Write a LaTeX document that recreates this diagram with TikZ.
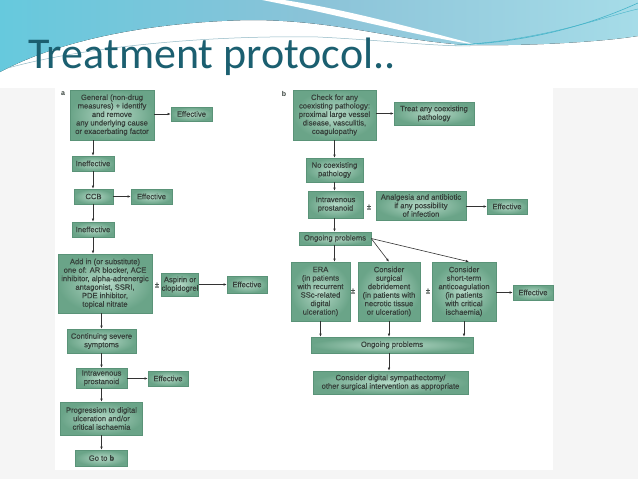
\documentclass[tikz,border=0pt]{standalone}
\usepackage{fontspec}
\setmainfont{Liberation Sans}
\newfontfamily\titlefont{Carlito}
\newfontfamily\bxfam{Liberation Sans}[FakeBold=0.5]
\usetikzlibrary{arrows.meta,calc}
\definecolor{bgc}{HTML}{F5F5F5}
\definecolor{hdA}{HTML}{66C9DD}
\definecolor{hdB}{HTML}{8BC3D8}
\definecolor{hdC}{HTML}{A6DCE8}
\definecolor{tealline}{HTML}{45B4C9}
\definecolor{swline}{HTML}{8FB8C4}
\definecolor{titlec}{HTML}{1B5F70}
\definecolor{boxin}{HTML}{B4D8C6}
\definecolor{boxout}{HTML}{6AA488}
\definecolor{boxd}{HTML}{5A9378}
\definecolor{txt}{HTML}{37423C}
\definecolor{arrc}{HTML}{333333}
\newcommand\bxfont{\bxfam\fontsize{7.6}{8.5}\selectfont}
\begin{document}
\begin{tikzpicture}[x=1pt,y=-1pt,
  box/.style={draw=boxd, line width=0.5pt, inner color=boxin, outer color=boxout,
    text=txt, font=\bxfont, align=center, inner sep=0pt, anchor=center},
  arr/.style={draw=arrc, line width=0.6pt, -{Latex[length=3.2pt,width=2.6pt]}},
  pm/.style={text=txt, font=\bxfont, inner sep=0pt},
  lbl/.style={text=txt, font=\fontsize{7}{8}\selectfont\bfseries, inner sep=0pt}]
\useasboundingbox (0,0) rectangle (638,479);
% background
\fill[bgc] (0,0) rectangle (638,479);
\fill[white] (0,0) rectangle (638,88);
% header swoosh
\fill[left color=hdA, right color=hdC, middle color=hdB]
  (0,0) -- (638,0) -- (638,36) .. controls (600,42) and (530,46) .. (470,45)
  .. controls (400,42) and (340,20) .. (250,20)
  .. controls (150,22) and (60,40) .. (0,72) -- cycle;
\fill[white] (284,0) .. controls (350,10) and (420,30) .. (478,45)
  .. controls (420,37) and (340,15) .. (262,0) -- cycle;
\draw[tealline, line width=0.6pt] (455,45) .. controls (540,42) and (600,20) .. (638,3);
\draw[tealline, line width=0.4pt] (470,44) .. controls (550,38) and (610,15) .. (638,9);
\draw[swline, line width=0.5pt] (8,68) .. controls (80,48) and (200,35) .. (318,37)
  .. controls (380,40) and (430,46) .. (470,46);
% title
\node[anchor=base west, font=\titlefont\fontsize{44}{44}\selectfont, text=titlec, inner sep=0pt]
  (title) at (28,68) {Treatment protocol..};
% panel
\fill[white] (55,88) rectangle (553,470);

% ----- panel a -----
\node[lbl] (la) at (63,94) {a};
\node[box, minimum width=84pt, minimum height=50pt] (gen) at (112,115)
  {General (non-drug\\measures) + identify\\and remove\\any underlying cause\\or exacerbating factor};
\node[box, minimum width=41pt, minimum height=14pt] (eff1) at (191.5,114) {Effective};
\node[box, minimum width=42pt, minimum height=15pt] (ineff1) at (93,163.5) {Ineffective};
\node[box, minimum width=39pt, minimum height=15pt] (ccb) at (93.5,196.5) {CCB};
\node[box, minimum width=41pt, minimum height=15pt] (eff2) at (151.5,196.5) {Effective};
\node[box, minimum width=42pt, minimum height=15pt] (ineff2) at (93,229.5) {Ineffective};
\node[box, minimum width=94pt, minimum height=59pt] (addin) at (105,283.5)
  {Add in (or substitute)\\one of: AR blocker, ACE\\inhibitor, alpha-adrenergic\\antagonist, SSRI,\\PDE inhibitor,\\topical nitrate};
\node[pm] (pm1) at (157,285) {±};
\node[box, minimum width=36pt, minimum height=23pt] (asp) at (180,284.5) {Aspirin or\\clopidogrel};
\node[box, minimum width=40pt, minimum height=17pt] (eff3) at (247,284.5) {Effective};
\node[box, minimum width=69pt, minimum height=24pt] (cont) at (101.5,341) {Continuing severe\\symptoms};
\node[box, minimum width=51pt, minimum height=20pt] (ivp1) at (101.5,378) {Intravenous\\prostanoid};
\node[box, minimum width=40pt, minimum height=15pt] (eff4) at (168,378.5) {Effective};
\node[box, minimum width=82pt, minimum height=33pt] (prog) at (101.5,418.5)
  {Progression to digital\\ulceration and/or\\critical ischaemia};
\node[box, minimum width=52pt, minimum height=16pt] (gotob) at (101.5,458) {Go to \textbf{b}};

\draw[arr] (gen.east |- eff1.west) -- (eff1.west);
\draw[arr] (gen.south -| ineff1.north) -- (ineff1.north);
\draw[arr] (ineff1.south) -- (ineff1.south |- ccb.north);
\draw[arr] (ccb.east) -- (eff2.west);
\draw[arr] (ccb.south -| ineff1.south) -- (ineff1.south |- ineff2.north);
\draw[arr] (ineff2.south) -- (ineff2.south |- addin.north);
\draw[arr] (asp.east) -- (eff3.west);
\draw[arr] (addin.south -| cont.north) -- (cont.north);
\draw[arr] (cont.south) -- (cont.south |- ivp1.north);
\draw[arr] (ivp1.east |- eff4.west) -- (eff4.west);
\draw[arr] (ivp1.south) -- (ivp1.south |- prog.north);
\draw[arr] (prog.south) -- (prog.south |- gotob.north);

% ----- panel b -----
\node[lbl] (lb) at (284,94) {b};
\node[box, minimum width=83pt, minimum height=50pt] (chk) at (334.5,115)
  {Check for any\\coexisting pathology:\\proximal large vessel\\disease, vasculitis,\\coagulopathy};
\node[box, minimum width=80pt, minimum height=23pt] (treat) at (434,113.5) {Treat any coexisting\\pathology};
\node[box, minimum width=57pt, minimum height=24pt] (nocx) at (334.5,170) {No coexisting\\pathology};
\node[box, minimum width=55pt, minimum height=27pt] (ivp2) at (335.5,204.5) {Intravenous\\prostanoid};
\node[pm] (pm2) at (369,207) {±};
\node[box, minimum width=90pt, minimum height=29pt] (anal) at (421,205.5)
  {Analgesia and antibiotic\\if any possibility\\of infection};
\node[box, minimum width=40pt, minimum height=15pt] (eff5) at (507,206.5) {Effective};
\node[box, minimum width=72pt, minimum height=13pt] (ong1) at (335,238.5) {Ongoing problems};
\node[box, minimum width=59pt, minimum height=59pt] (era) at (320.5,291.5)
  {ERA\\(in patients\\with recurrent\\SSc-related\\digital\\ulceration)};
\node[pm] (pm3) at (353,291) {±};
\node[box, minimum width=62pt, minimum height=59pt] (surg) at (389,291.5)
  {Consider\\surgical\\debridement\\(in patients with\\necrotic tissue\\or ulceration)};
\node[pm] (pm4) at (428,291) {±};
\node[box, minimum width=64pt, minimum height=59pt] (antic) at (464,291.5)
  {Consider\\short-term\\anticoagulation\\(in patients\\with critical\\ischaemia)};
\node[box, minimum width=40pt, minimum height=15pt] (eff6) at (533,292.5) {Effective};
\node[box, minimum width=162pt, minimum height=16pt] (ong2) at (392,345) {Ongoing problems};
\node[box, minimum width=155pt, minimum height=23pt] (dig) at (390.5,382.5)
  {Consider digital sympathectomy/\\other surgical intervention as appropriate};

\draw[arr] (chk.east |- treat.west) -- (treat.west);
\draw[arr] (chk.south) -- (chk.south |- nocx.north);
\draw[arr] (nocx.south) -- (nocx.south |- ivp2.north);
\draw[arr] (anal.east |- eff5.west) -- (eff5.west);
\draw[arr] (ivp2.south -| nocx.south) -- (nocx.south |- ong1.north);
\draw[arr] (ong1.south -| nocx.south) -- (nocx.south |- era.north);
\draw[arr] (ong1.east) -- (surg.north);
\draw[arr] (ong1.east) -- ($(antic.north)+(5,0)$);
\draw[arr] (era.south) -- (era.south |- ong2.north);
\draw[arr] (surg.south) -- (surg.south |- ong2.north);
\draw[arr] (antic.south) -- (antic.south |- ong2.north);
\draw[arr] (antic.east |- eff6.west) -- (eff6.west);
\draw[arr] (ong2.south -| surg.south) -- (surg.south |- dig.north);
\end{tikzpicture}
\end{document}
